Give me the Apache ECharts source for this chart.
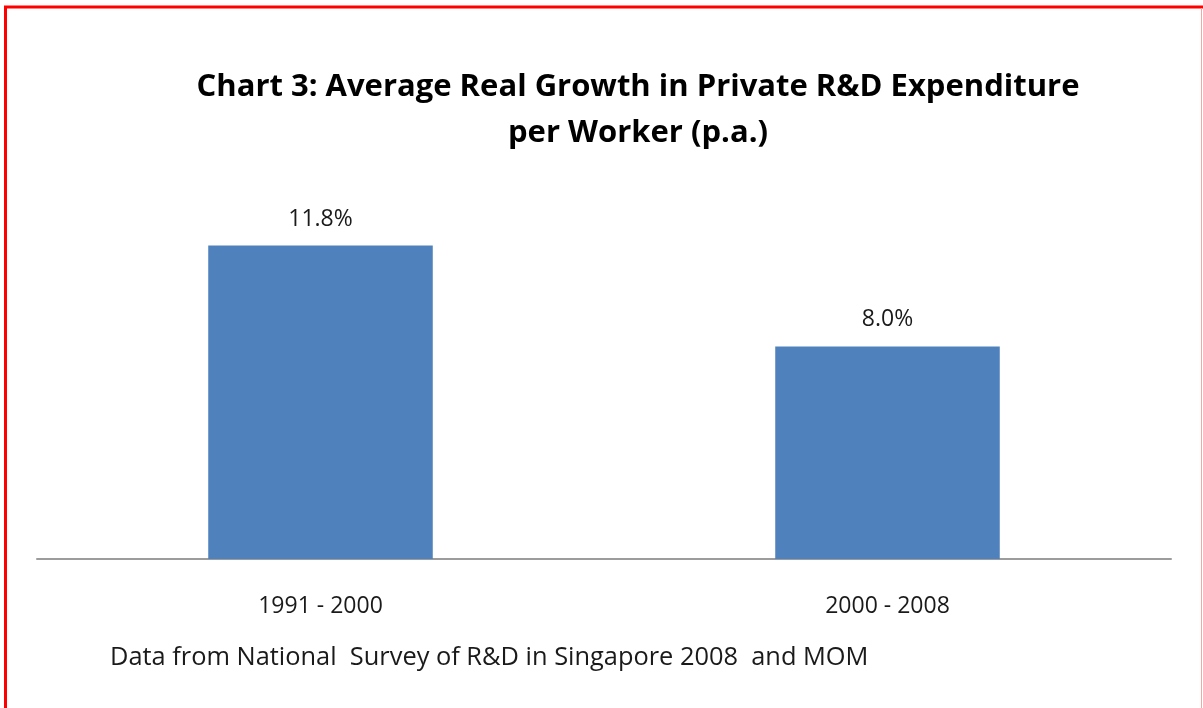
<!DOCTYPE html>
<html>
<head>
<meta charset="utf-8">
<script src="https://cdn.jsdelivr.net/npm/echarts@6/dist/echarts.min.js"></script>
<style>
  html, body { margin: 0; padding: 0; background: #fff; }
  #main { width: 1203px; height: 708px; }
</style>
</head>
<body>
<div id="main"></div>
<script>
var periods = ['1991 - 2000', '2000 - 2008'];
var growth = [11.8, 8.0];
var titleLines = ['Chart 3: Average Real Growth in Private R&D Expenditure', 'per Worker (p.a.)'];
var footnote = 'Data from National  Survey of R&D in Singapore 2008  and MOM';

var myChart = echarts.init(document.getElementById('main'));

myChart.setOption({
  animation: false,
  backgroundColor: '#fff',
  grid: {
    left: 37,
    right: 32,
    top: 187,
    bottom: 149
  },
  xAxis: {
    type: 'category',
    data: periods,
    axisTick: { show: false },
    axisLine: { lineStyle: { color: '#9c9c9c', width: 2 } },
    axisLabel: {
      margin: 36,
      color: '#1a1a1a',
      fontFamily: 'Open Sans',
      fontSize: 23
    }
  },
  yAxis: {
    type: 'value',
    min: 0,
    max: 14,
    show: false,
    splitLine: { show: false }
  },
  series: [
    {
      type: 'bar',
      data: growth,
      barWidth: '39.6%',
      itemStyle: { color: '#4f81bd' },
      label: {
        show: true,
        position: 'top',
        distance: 15,
        color: '#1a1a1a',
        fontFamily: 'Open Sans',
        fontSize: 23,
        formatter: function (p) { return p.value.toFixed(1) + '%'; }
      }
    }
  ],
  graphic: [
    // 外框
    { type: 'line', shape: { x1: 5.5, y1: 6, x2: 5.5, y2: 708 }, style: { stroke: '#ff0000', lineWidth: 3 } },
    { type: 'line', shape: { x1: 4, y1: 7, x2: 1203, y2: 7 }, style: { stroke: '#ff0000', lineWidth: 3 } },
    { type: 'line', shape: { x1: 1201.5, y1: 8, x2: 1201.5, y2: 708 }, style: { stroke: '#f4a6a6', lineWidth: 1 } },
    // 标题
    {
      type: 'text', x: 638, y: 87,
      style: {
        text: titleLines[0], align: 'center', verticalAlign: 'middle',
        font: 'bold 31px "Open Sans"', fill: '#000'
      }
    },
    {
      type: 'text', x: 638, y: 133,
      style: {
        text: titleLines[1], align: 'center', verticalAlign: 'middle',
        font: 'bold 31px "Open Sans"', fill: '#000'
      }
    },
    // 数据来源
    {
      type: 'text', x: 110, y: 658,
      style: {
        text: footnote, align: 'left', verticalAlign: 'middle',
        font: '25.4px "Open Sans"', fill: '#1a1a1a'
      }
    }
  ]
});
</script>
</body>
</html>
